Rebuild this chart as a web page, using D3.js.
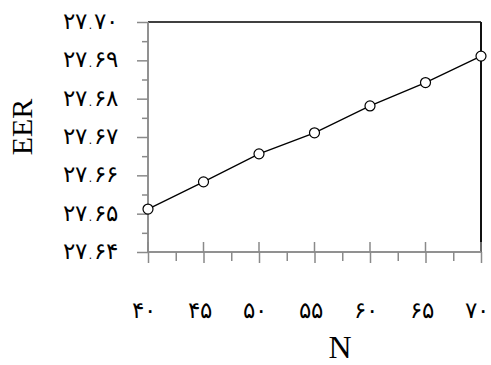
<!DOCTYPE html>
<html>
<head>
<meta charset="utf-8">
<script src="https://cdn.jsdelivr.net/npm/d3@7"></script>
<style>
  body { margin: 0; background: #fff; }
  svg { display: block; }
</style>
</head>
<body>
<div id="chart"></div>
<script>
// data
const nValues = [40, 45, 50, 55, 60, 65, 70];
const eerValues = [27.6512, 27.6583, 27.6656, 27.6711, 27.6781, 27.6842, 27.6911];
const yTicks = [27.64, 27.65, 27.66, 27.67, 27.68, 27.69, 27.70];
const xTicks = [40, 45, 50, 55, 60, 65, 70];
const xLabel = 'N';
const yLabel = 'EER';

const width = 491, height = 365;
const plotLeft = 148, plotRight = 481, plotTop = 22, plotBottom = 252;

// western digits -> persian digits
const fa = s => String(s).replace(/\d/g, d => '۰۱۲۳۴۵۶۷۸۹'[d]);

const svg = d3.select('#chart').append('svg')
  .attr('width', width)
  .attr('height', height);

const x = d3.scaleLinear().domain([40, 70]).range([plotLeft, plotRight]);
const y = d3.scaleLinear().domain([27.64, 27.70]).range([plotBottom, plotTop]);

const axisGray = '#8a8a8a';

// frame: top and right in black
svg.append('line')
  .attr('x1', plotLeft).attr('x2', plotRight).attr('y1', plotTop).attr('y2', plotTop)
  .attr('stroke', '#000').attr('stroke-width', 1.5);
svg.append('line')
  .attr('x1', plotRight).attr('x2', plotRight).attr('y1', plotTop).attr('y2', plotBottom)
  .attr('stroke', '#111').attr('stroke-width', 2);

// minor ticks (half steps)
const yMinor = yTicks.slice(0, -1).map(v => v + 0.005);
const xMinor = xTicks.slice(0, -1).map(v => v + 2.5);

svg.append('g')
  .attr('class', 'ax')
  .attr('transform', 'translate(' + plotLeft + ',0)')
  .call(d3.axisLeft(y).tickValues(yMinor).tickSize(6).tickFormat(''));
svg.append('g')
  .attr('class', 'ax')
  .attr('transform', 'translate(' + plotLeft + ',0)')
  .call(d3.axisLeft(y).tickValues(yTicks).tickSize(11).tickFormat(''));

svg.append('g')
  .attr('class', 'ax')
  .attr('transform', 'translate(0,' + plotBottom + ')')
  .call(d3.axisBottom(x).tickValues(xMinor).tickSize(9).tickFormat(''));
const xMajor = svg.append('g')
  .attr('class', 'ax')
  .attr('transform', 'translate(0,' + plotBottom + ')')
  .call(d3.axisBottom(x).tickValues(xTicks).tickSize(11).tickFormat(''));
// major x ticks also cross above the axis
xMajor.selectAll('line.up')
  .data(xTicks)
  .enter().append('line')
  .attr('class', 'up')
  .attr('x1', d => x(d)).attr('x2', d => x(d))
  .attr('y1', 0).attr('y2', -10);

svg.selectAll('.ax path, .ax line')
  .attr('stroke', axisGray)
  .attr('stroke-width', 1.5);
svg.selectAll('.ax .domain').attr('d', function() {
  return this.parentNode.getAttribute('transform').indexOf('translate(0') === 0
    ? 'M' + plotLeft + ',0H' + plotRight
    : 'M0,' + plotTop + 'V' + plotBottom;
});

// tick labels
svg.append('g').selectAll('text')
  .data(yTicks)
  .enter().append('text')
  .attr('x', 118)
  .attr('y', d => y(d))
  .attr('dy', '0.3em')
  .attr('text-anchor', 'end')
  .attr('font-family', 'DejaVu Sans')
  .attr('font-weight', 200)
  .attr('font-size', 23)
  .attr('letter-spacing', 1.5)
  .attr('direction', 'ltr')
  .text(d => fa(d3.format('.2f')(d)));

svg.append('g').selectAll('text')
  .data(xTicks)
  .enter().append('text')
  .attr('x', d => x(d) - 4)
  .attr('y', 318)
  .attr('text-anchor', 'middle')
  .attr('font-family', 'DejaVu Sans')
  .attr('font-weight', 200)
  .attr('font-size', 23)
  .attr('letter-spacing', 2)
  .text(d => fa(d));

// axis titles
svg.append('text')
  .attr('x', 340).attr('y', 358)
  .attr('text-anchor', 'middle')
  .attr('font-family', 'Liberation Serif')
  .attr('font-size', 32)
  .text(xLabel);

svg.append('text')
  .attr('transform', 'translate(32,127) rotate(-90)')
  .attr('text-anchor', 'middle')
  .attr('font-family', 'Liberation Serif')
  .attr('font-size', 30)
  .text(yLabel);

// series
const line = d3.line()
  .x((d, i) => x(nValues[i]))
  .y(d => y(d));

svg.append('path')
  .datum(eerValues)
  .attr('d', line)
  .attr('fill', 'none')
  .attr('stroke', '#000')
  .attr('stroke-width', 1.3);

svg.append('g').selectAll('circle')
  .data(eerValues)
  .enter().append('circle')
  .attr('cx', (d, i) => x(nValues[i]))
  .attr('cy', d => y(d))
  .attr('r', 5)
  .attr('fill', '#fff')
  .attr('stroke', '#000')
  .attr('stroke-width', 1.2);
</script>
</body>
</html>
